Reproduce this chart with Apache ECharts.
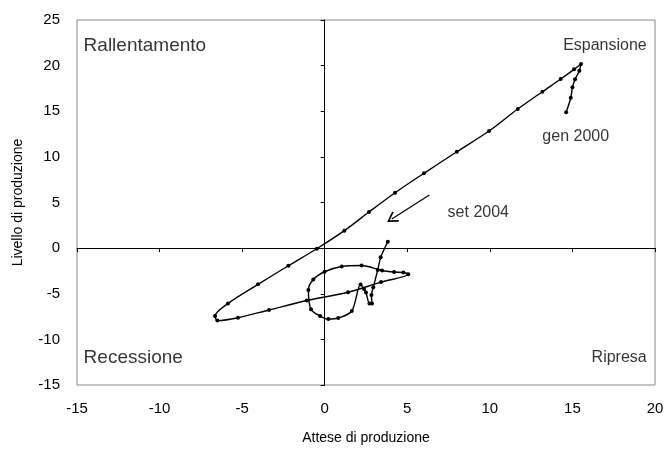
<!DOCTYPE html>
<html>
<head>
<meta charset="utf-8">
<script src="https://cdn.jsdelivr.net/npm/echarts@6/dist/echarts.min.js"></script>
<style>html,body{margin:0;padding:0;background:#fff}#c{width:671px;height:452px}</style>
</head>
<body>
<div id="c"></div>
<script>
// Attese di produzione (x) vs Livello di produzione (y), monthly gen 2000 -> set 2004
var attese = [14.62,14.90,15.00,15.16,15.42,15.52,15.10,14.29,13.18,11.69,9.95,8.00,6.01,4.26,2.68,1.19,-0.48,-2.20,-4.04,-5.86,-6.64,-6.50,-5.25,-3.37,-1.09,1.41,3.41,5.06,4.76,4.20,3.47,2.23,1.03,-0.01,-0.69,-0.99,-0.83,-0.28,0.22,0.82,1.64,2.17,2.38,2.50,2.71,2.86,2.83,2.94,3.21,3.39,3.82];
var livello = [14.88,16.48,17.62,18.50,19.44,20.18,19.59,18.53,17.14,15.24,12.83,10.56,8.20,6.07,3.96,1.91,-0.07,-1.93,-3.97,-6.07,-7.44,-7.94,-7.63,-6.78,-5.74,-4.84,-3.72,-2.87,-2.67,-2.62,-2.45,-1.91,-2.02,-2.59,-3.44,-4.59,-6.71,-7.44,-7.77,-7.66,-6.89,-3.99,-4.48,-4.87,-6.07,-6.07,-5.14,-4.30,-2.40,-1.01,0.70];

var xTicks = [-15,-10,-5,0,5,10,15,20];
var yTicks = [-15,-10,-5,0,5,10,15,20,25];

var quadrantNames = ['Rallentamento','Espansione','Recessione','Ripresa'];
var quadrantX = [-14.6,19.5,-14.6,19.5];
var quadrantY = [22.2,22.2,-12.0,-12.0];
var quadrantAlign = ['left','right','left','right'];
var quadrantSize = [19,16,19,16];

var noteNames = ['gen 2000','set 2004'];
var noteX = [15.2,9.3];
var noteY = [12.2,3.9];

var arrowFrom = [6.34,5.82];
var arrowTo = [4.06,3.19];

var FONT = 'Liberation Sans, Arial, sans-serif';
var path = attese.map(function(v,i){return [v, livello[i]];});
var quads = quadrantNames.map(function(n,i){return {value:[quadrantX[i],quadrantY[i]], name:n, label:{align:quadrantAlign[i],fontSize:quadrantSize[i]}};});
var notes = noteNames.map(function(n,i){return {value:[noteX[i],noteY[i]], name:n};});

var chart = echarts.init(document.getElementById('c'), null, {renderer:'canvas'});
chart.setOption({
  animation:false,
  backgroundColor:'#ffffff',
  grid:{left:77,right:16,top:20,bottom:67,show:true,borderColor:'#868686',borderWidth:1,backgroundColor:'transparent'},
  xAxis:[{
    type:'value',min:xTicks[0],max:xTicks[xTicks.length-1],interval:5,position:'bottom',
    axisLine:{show:false,onZero:false},axisTick:{show:false},splitLine:{show:false},
    axisLabel:{color:'#000',fontFamily:FONT,fontSize:15,margin:16},
    name:'Attese di produzione',nameLocation:'middle',nameGap:46,
    nameTextStyle:{color:'#000',fontFamily:FONT,fontSize:14}
  },{
    type:'value',min:xTicks[0],max:xTicks[xTicks.length-1],interval:5,position:'top',
    axisLine:{show:true,onZero:true,lineStyle:{color:'#000',width:1}},
    axisTick:{show:true,inside:true,length:4,lineStyle:{color:'#000'}},
    axisLabel:{show:false},splitLine:{show:false}
  }],
  yAxis:[{
    type:'value',min:yTicks[0],max:yTicks[yTicks.length-1],interval:5,position:'left',
    axisLine:{show:false,onZero:false},axisTick:{show:false},splitLine:{show:false},
    axisLabel:{color:'#000',fontFamily:FONT,fontSize:15,margin:17},
    name:'Livello di produzione',nameLocation:'middle',nameGap:52,nameRotate:90,
    nameTextStyle:{color:'#000',fontFamily:FONT,fontSize:14}
  },{
    type:'value',min:yTicks[0],max:yTicks[yTicks.length-1],interval:5,position:'right',
    axisLine:{show:true,onZero:true,lineStyle:{color:'#000',width:1}},
    axisTick:{show:true,inside:true,length:4,lineStyle:{color:'#000'}},
    axisLabel:{show:false},splitLine:{show:false}
  }],
  series:[{
    type:'line',xAxisIndex:0,yAxisIndex:0,data:path,smooth:0.3,
    symbol:'circle',symbolSize:4,showSymbol:true,
    lineStyle:{color:'#000',width:1.4},itemStyle:{color:'#000'},
    markLine:{
      silent:true,
      symbol:['none','path://M50,0 L100,88 L90,100 L50,28 L10,100 L0,88 Z'],
      symbolSize:[12,11],
      lineStyle:{color:'#000',width:1.2,type:'solid'},label:{show:false},
      data:[[{coord:arrowFrom},{coord:arrowTo}]]
    }
  },{
    type:'scatter',xAxisIndex:0,yAxisIndex:0,data:quads,symbolSize:0,silent:true,
    label:{show:true,position:'inside',formatter:'{b}',color:'#000',fontFamily:FONT,fontSize:18}
  },{
    type:'scatter',xAxisIndex:0,yAxisIndex:0,data:notes,symbolSize:0,silent:true,
    label:{show:true,position:'inside',formatter:'{b}',color:'#000',fontFamily:FONT,fontSize:16}
  }]
});
</script>
</body>
</html>
